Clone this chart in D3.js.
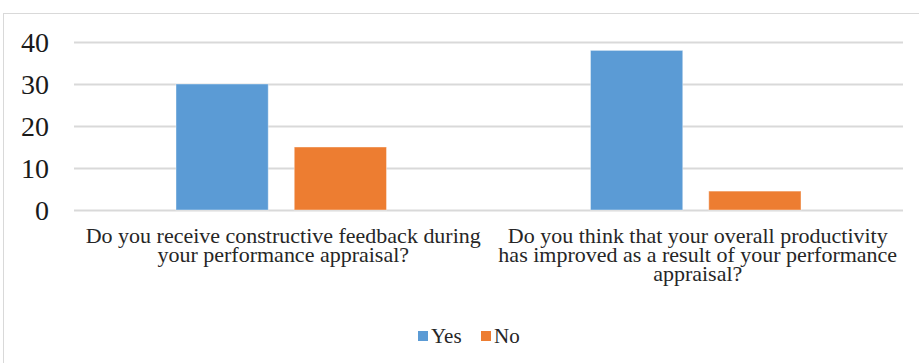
<!DOCTYPE html>
<html>
<head>
<meta charset="utf-8">
<script src="https://cdn.jsdelivr.net/npm/d3@7"></script>
<style>
  html, body { margin: 0; padding: 0; background: #fff; }
  svg { display: block; }
</style>
</head>
<body>
<svg id="chart" width="919" height="363"></svg>
<script>
const categories = [
  ["Do you receive constructive feedback during", "your performance appraisal?"],
  ["Do you think that your overall productivity", "has improved as a result of your performance", "appraisal?"]
];
const seriesNames = ["Yes", "No"];
const yesValues = [30, 38];
const noValues = [15, 4.5];
const yTicks = [0, 10, 20, 30, 40];
const colors = ["#5B9BD5", "#ED7D31"];

const FONT = "'Liberation Serif', Tinos, 'Times New Roman', serif";
const TEXT = "#262626";
const svg = d3.select("#chart");
const W = 919, H = 363;
const plot = { left: 74, right: 903, top: 42, bottom: 210 };

svg.append("rect").attr("x", 3.5).attr("y", 13.5).attr("width", W).attr("height", H)
  .attr("fill", "#fff").attr("stroke", "#d9d9d9").attr("stroke-width", 1);

const x0 = d3.scaleBand().domain(d3.range(categories.length)).range([plot.left, plot.right]);
const x1 = d3.scaleBand().domain(seriesNames).range([102, x0.bandwidth() - 102]).paddingInner(0.22);
const y = d3.scaleLinear().domain([0, 40]).range([plot.bottom, plot.top]);

// gridlines + tick labels
const yAxis = d3.axisLeft(y).tickValues(yTicks).tickSize(-(plot.right - plot.left)).tickPadding(25).tickFormat(d3.format("d"));
const gy = svg.append("g").attr("transform", `translate(${plot.left},0)`).call(yAxis);
gy.attr("font-family", FONT);
gy.select(".domain").remove();
gy.selectAll(".tick line").attr("stroke", "#d9d9d9").attr("stroke-width", 2);
gy.selectAll(".tick text").attr("font-size", 28).attr("fill", "#1a1a1a")
  .style("font-family", FONT).attr("dy", "0.35em");

// bars
const data = categories.map((c, i) => ({ i, vals: [yesValues[i], noValues[i]] }));
const groups = svg.append("g").selectAll("g").data(data).join("g")
  .attr("transform", d => `translate(${x0(d.i)},0)`);
groups.selectAll("rect").data(d => d.vals.map((v, k) => ({ k, v }))).join("rect")
  .attr("x", d => x1(seriesNames[d.k]))
  .attr("width", x1.bandwidth())
  .attr("y", d => y(d.v))
  .attr("height", d => y(0) - y(d.v))
  .attr("fill", d => colors[d.k])
  .attr("stroke", "#fff").attr("stroke-opacity", 0.4).attr("stroke-width", 1);

// category labels
svg.append("g").selectAll("text").data(categories).join("text")
  .attr("text-anchor", "middle")
  .attr("font-size", 20)
  .attr("fill", TEXT)
  .style("font-family", FONT)
  .attr("transform", (d, i) => {
    const cx = x0(i) + x0.bandwidth() / 2 + 2;
    return `translate(${cx},0) scale(1.1,1)`;
  })
  .each(function(lines) {
    const t = d3.select(this);
    lines.forEach((ln, j) => {
      t.append("tspan").attr("x", 0).attr("y", 243 + j * 19).text(ln);
    });
  });

// legend
const legend = svg.append("g");
const legendX = [418, 481];
seriesNames.forEach((name, k) => {
  legend.append("rect").attr("x", legendX[k]).attr("y", 331).attr("width", 10).attr("height", 10).attr("fill", colors[k]);
  legend.append("text").attr("x", legendX[k] + 13).attr("y", 342.5).attr("font-size", 21)
    .attr("fill", TEXT).style("font-family", FONT).text(name);
});
</script>
</body>
</html>
